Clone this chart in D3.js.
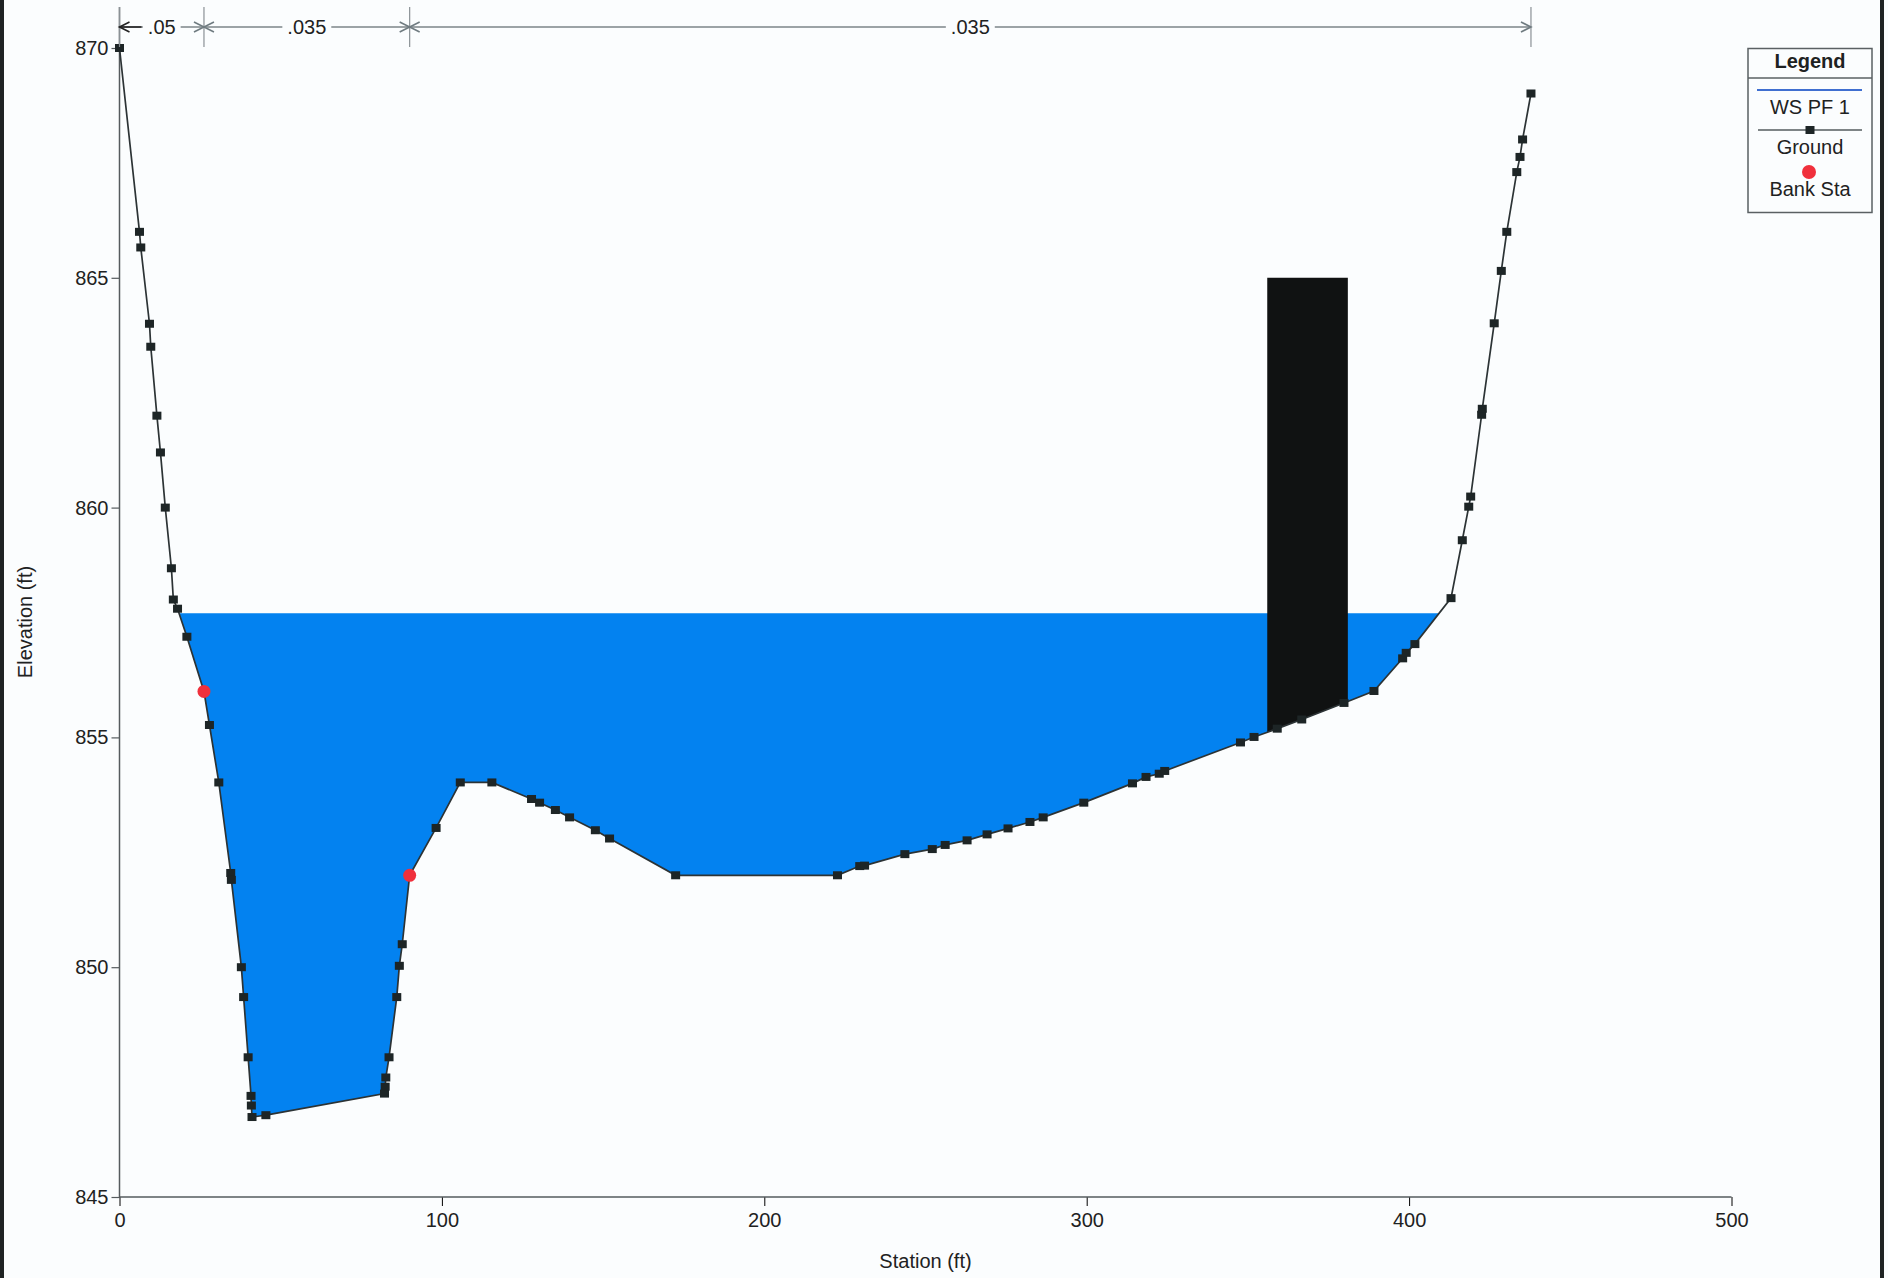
<!DOCTYPE html>
<html>
<head>
<meta charset="utf-8">
<script src="https://cdn.jsdelivr.net/npm/d3@7"></script>
<style>
  body { margin: 0; background: #fbfdfe; }
  svg { display: block; font-family: "Liberation Sans", Arial, sans-serif; }
</style>
</head>
<body>
<script>
// ground survey points (station ft, elevation ft)
const stations = [0, 6.2, 6.6, 9.3, 9.7, 11.6, 12.7, 14.2, 16.1, 16.7, 18.0, 20.9, 26.2, 27.9, 30.8,
  34.5, 34.7, 37.8, 38.5, 39.9, 40.8, 40.9, 41.1, 45.4, 82.2, 82.4, 82.6, 83.6, 86.0, 86.8, 87.7,
  90.0, 98.2, 105.7, 115.5, 127.8, 130.3, 135.2, 139.6, 147.6, 152.0, 172.5, 222.7, 229.6, 231.1,
  243.6, 252.1, 256.1, 262.9, 269.1, 275.6, 282.4, 286.5, 299.1, 314.2, 318.4, 322.5, 324.2,
  347.7, 351.9, 359.1, 366.7, 379.8, 389.1, 398.0, 399.1, 401.8, 413.0, 416.5, 418.5, 419.1,
  422.5, 422.7, 426.4, 428.6, 430.3, 433.4, 434.4, 435.2, 437.8]
const elevations = [870, 866.0, 865.66, 864.0, 863.5, 862.0, 861.2, 860.0, 858.68, 858.0, 857.8, 857.19, 856.0, 855.27, 854.02,
  852.05, 851.9, 850.0, 849.35, 848.04, 847.2, 846.99, 846.74, 846.78, 847.25, 847.4, 847.6, 848.04, 849.35, 850.03, 850.5,
  852.0, 853.03, 854.02, 854.02, 853.66, 853.58, 853.42, 853.26, 852.98, 852.8, 852.0, 852.0, 852.2, 852.21,
  852.46, 852.57, 852.66, 852.76, 852.89, 853.02, 853.16, 853.26, 853.58, 854.0, 854.14, 854.21, 854.27,
  854.89, 855.01, 855.19, 855.39, 855.75, 856.01, 856.72, 856.84, 857.03, 858.03, 859.29, 860.02, 860.24,
  862.02, 862.15, 864.01, 865.15, 866.0, 867.3, 867.63, 868.01, 869.01]

const bankStations = [26.2, 90.0]
const wsElev = 857.7
const pierSta = [356, 381]
const pierTop = 865

// manning's n regions
const nBreaks = [0, 26.2, 90.0, 437.8]
const nLabels = ['.05', '.035', '.035']

const xTicks = [0, 100, 200, 300, 400, 500]
const yTicks = [845, 850, 855, 860, 865, 870]

const legendItems = ['WS PF 1', 'Ground', 'Bank Sta']

const W = 1888, H = 1278
const svg = d3.select('body').append('svg').attr('width', W).attr('height', H)

svg.append('rect').attr('width', W).attr('height', H).attr('fill', '#fbfdfe')

const x = d3.scaleLinear().domain([0, 500]).range([119.5, 1731.5])
const y = d3.scaleLinear().domain([845, 870]).range([1197, 48])

const pts = stations.map((s, i) => [s, elevations[i]])
const groundAt = s => {
  for (let i = 1; i < pts.length; i++) {
    if (pts[i][0] >= s) {
      const [s0, e0] = pts[i - 1], [s1, e1] = pts[i]
      return e0 + (e1 - e0) * (s - s0) / (s1 - s0)
    }
  }
  return pts[pts.length - 1][1]
}
const crossing = (a, b) => {
  const t = (wsElev - a[1]) / (b[1] - a[1])
  return a[0] + t * (b[0] - a[0])
}

// water polygon
let iL = pts.findIndex(p => p[1] < wsElev)
let iR = pts.length - 1
while (pts[iR][1] >= wsElev) iR--
const sL = crossing(pts[iL - 1], pts[iL])
const sR = crossing(pts[iR], pts[iR + 1])
const waterPts = [[sL, wsElev]].concat(pts.slice(iL, iR + 1)).concat([[sR, wsElev]])

const line = d3.line().x(d => x(d[0])).y(d => y(d[1]))

svg.append('path')
  .attr('d', line(waterPts) + 'Z')
  .attr('fill', '#0382f0')

// pier
const pierPts = [[pierSta[0], pierTop], [pierSta[1], pierTop], [pierSta[1], groundAt(pierSta[1])]]
  .concat(pts.filter(p => p[0] > pierSta[0] && p[0] < pierSta[1]).reverse())
  .concat([[pierSta[0], groundAt(pierSta[0])]])
svg.append('path')
  .attr('d', line(pierPts) + 'Z')
  .attr('fill', '#101212')

// axes
const axisColor = '#555b5e'
const yMinor = d3.range(845, 871).filter(v => v % 5 !== 0)
const xMinor = d3.range(0, 501, 20).filter(v => v % 100 !== 0)

const gy = svg.append('g').attr('transform', `translate(${x(0)},0)`)
gy.call(d3.axisLeft(y).tickValues(yMinor).tickSize(6).tickFormat(''))
gy.call(d3.axisLeft(y).tickValues(yTicks).tickSize(8).tickPadding(3).tickFormat(d3.format('d')))
gy.selectAll('.domain').remove()
gy.selectAll('line').attr('stroke', axisColor).attr('stroke-width', 1.2)
gy.selectAll('text').attr('font-size', 20).attr('fill', '#1e2222').attr('font-family', '"Liberation Sans", Arial, sans-serif')

const gx = svg.append('g').attr('transform', `translate(0,${y(845)})`)
gx.call(d3.axisBottom(x).tickValues(xMinor).tickSize(5).tickFormat(''))
gx.selectAll('line').attr('y1', -4).attr('stroke', '#9aa0a3')
gx.call(d3.axisBottom(x).tickValues(xTicks).tickSize(9).tickPadding(7).tickFormat(d3.format('d')))
gx.selectAll('.domain').remove()
gx.selectAll('text').attr('font-size', 20).attr('fill', '#1e2222').attr('font-family', '"Liberation Sans", Arial, sans-serif')

svg.append('line')
  .attr('x1', x(0)).attr('x2', x(0)).attr('y1', 7).attr('y2', y(845))
  .attr('stroke', axisColor).attr('stroke-width', 1.5)
svg.append('line')
  .attr('x1', x(0)).attr('x2', x(500)).attr('y1', y(845)).attr('y2', y(845))
  .attr('stroke', axisColor).attr('stroke-width', 1.5)

svg.append('text')
  .attr('transform', `translate(32,622) rotate(-90)`)
  .attr('text-anchor', 'middle')
  .attr('font-size', 20).attr('fill', '#1e2222')
  .text('Elevation (ft)')
svg.append('text')
  .attr('x', x(250)).attr('y', 1268)
  .attr('text-anchor', 'middle')
  .attr('font-size', 20).attr('fill', '#1e2222')
  .text('Station (ft)')

// ground line + markers
svg.append('path')
  .attr('d', line(pts))
  .attr('fill', 'none')
  .attr('stroke', '#2c3335')
  .attr('stroke-width', 1.7)

svg.selectAll('.gpt').data(pts).enter().append('rect')
  .attr('class', 'gpt')
  .attr('x', d => x(d[0]) - 4.5)
  .attr('y', d => y(d[1]) - 4)
  .attr('width', 9).attr('height', 8)
  .attr('fill', '#1d2526')

svg.selectAll('.bank').data(bankStations).enter().append('circle')
  .attr('class', 'bank')
  .attr('cx', d => x(d))
  .attr('cy', d => y(groundAt(d)))
  .attr('r', 6.5)
  .attr('fill', '#f0303c')

// n-value annotation across the top
const ay = 27
const ann = svg.append('g')
ann.append('line')
  .attr('x1', x(nBreaks[0])).attr('x2', x(nBreaks[nBreaks.length - 1]))
  .attr('y1', ay).attr('y2', ay)
  .attr('stroke', '#7d8589').attr('stroke-width', 1.5)
nBreaks.forEach((b, i) => {
  const bx = x(b)
  ann.append('line').attr('x1', bx).attr('x2', bx).attr('y1', 7).attr('y2', 47)
    .attr('stroke', '#8a9195').attr('stroke-width', 1.2)
  if (i > 0) {
    ann.append('path').attr('d', `M${bx - 10},${ay - 5}L${bx},${ay}L${bx - 10},${ay + 5}`)
      .attr('fill', 'none').attr('stroke', '#6f7b80').attr('stroke-width', 1.6)
  }
  if (i < nBreaks.length - 1) {
    ann.append('path').attr('d', `M${bx + 10},${ay - 5}L${bx},${ay}L${bx + 10},${ay + 5}`)
      .attr('fill', 'none').attr('stroke', i === 0 ? '#222' : '#6f7b80').attr('stroke-width', 1.6)
  }
})
nLabels.forEach((lab, i) => {
  const cx = x((nBreaks[i] + nBreaks[i + 1]) / 2)
  const t = ann.append('text')
    .attr('x', cx).attr('y', ay + 7)
    .attr('text-anchor', 'middle')
    .attr('font-size', 20).attr('fill', '#1e2222')
    .text(lab)
  const bb = t.node().getBBox()
  ann.insert('rect', 'text')
    .attr('x', bb.x - 5).attr('y', ay - 3).attr('width', bb.width + 10).attr('height', 6)
    .attr('fill', '#fbfdfe')
})
// darker shaft on the leftmost arrow
ann.append('line').attr('x1', x(0)).attr('x2', x(0) + 22).attr('y1', ay).attr('y2', ay)
  .attr('stroke', '#222').attr('stroke-width', 1.6)

// legend
const lg = svg.append('g')
lg.append('rect')
  .attr('x', 1748).attr('y', 48.5).attr('width', 124).attr('height', 164)
  .attr('fill', '#fbfdfe').attr('stroke', '#5a6063').attr('stroke-width', 1.5)
lg.append('line').attr('x1', 1748).attr('x2', 1872).attr('y1', 78).attr('y2', 78)
  .attr('stroke', '#5a6063').attr('stroke-width', 1.3)
lg.append('text').attr('x', 1810).attr('y', 68).attr('text-anchor', 'middle')
  .attr('font-size', 20).attr('font-weight', 'bold').attr('fill', '#1e2222').text('Legend')
lg.append('line').attr('x1', 1757).attr('x2', 1862).attr('y1', 90).attr('y2', 90)
  .attr('stroke', '#3f6fd0').attr('stroke-width', 2)
lg.append('line').attr('x1', 1758).attr('x2', 1862).attr('y1', 130).attr('y2', 130)
  .attr('stroke', '#555b5e').attr('stroke-width', 1.5)
lg.append('rect').attr('x', 1805.5).attr('y', 126).attr('width', 9).attr('height', 8).attr('fill', '#1d2526')
lg.append('circle').attr('cx', 1809).attr('cy', 172).attr('r', 7).attr('fill', '#f0303c')
lg.selectAll('.li').data(legendItems).enter().append('text')
  .attr('class', 'li')
  .attr('x', 1810)
  .attr('y', (d, i) => [114, 154, 196][i])
  .attr('text-anchor', 'middle')
  .attr('font-size', 20).attr('fill', '#1e2222')
  .text(d => d)

// scan edges
svg.append('rect').attr('x', 0).attr('y', 0).attr('width', 4).attr('height', H).attr('fill', '#1f2323')
svg.append('rect').attr('x', 1880).attr('y', 0).attr('width', 4).attr('height', H).attr('fill', '#1f2323')
</script>
</body>
</html>
